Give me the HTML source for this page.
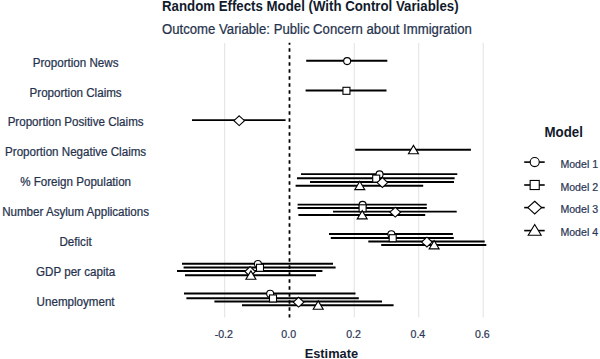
<!DOCTYPE html>
<html><head><meta charset="utf-8"><style>
html,body{margin:0;padding:0;background:#fff;}
body{width:600px;height:359px;position:relative;overflow:hidden;font-family:"Liberation Sans",sans-serif;}
svg{position:absolute;left:0;top:0;}
.tx{position:absolute;white-space:nowrap;line-height:1;-webkit-text-stroke:0.22px currentColor;}
</style></head><body>
<svg width="600" height="359" viewBox="0 0 600 359">
<line x1="224.6" y1="43" x2="224.6" y2="317.5" stroke="#e6e6e6" stroke-width="1.2"/>
<line x1="354.3" y1="43" x2="354.3" y2="317.5" stroke="#e6e6e6" stroke-width="1.2"/>
<line x1="418.7" y1="43" x2="418.7" y2="317.5" stroke="#e6e6e6" stroke-width="1.2"/>
<line x1="483.2" y1="43" x2="483.2" y2="317.5" stroke="#e6e6e6" stroke-width="1.2"/>
<line x1="289.5" y1="42.8" x2="289.5" y2="317.5" stroke="#000" stroke-width="1.8" stroke-dasharray="3.5 3.5" stroke-dashoffset="1.45"/>
<line x1="306.2" y1="60.80" x2="387.3" y2="60.80" stroke="#000" stroke-width="1.95"/>
<line x1="305.6" y1="90.50" x2="386.5" y2="90.50" stroke="#000" stroke-width="1.95"/>
<line x1="192" y1="120.10" x2="285.6" y2="120.10" stroke="#000" stroke-width="1.95"/>
<line x1="355.2" y1="149.80" x2="470.9" y2="149.80" stroke="#000" stroke-width="1.95"/>
<line x1="301" y1="174.10" x2="457.3" y2="174.10" stroke="#000" stroke-width="1.95"/>
<line x1="297" y1="178.30" x2="454.6" y2="178.30" stroke="#000" stroke-width="1.95"/>
<line x1="310" y1="182.00" x2="454" y2="182.00" stroke="#000" stroke-width="1.95"/>
<line x1="295.6" y1="185.70" x2="423.2" y2="185.70" stroke="#000" stroke-width="1.95"/>
<line x1="297.6" y1="204.60" x2="426.8" y2="204.60" stroke="#000" stroke-width="1.95"/>
<line x1="297.6" y1="208.00" x2="426.8" y2="208.00" stroke="#000" stroke-width="1.95"/>
<line x1="333" y1="211.60" x2="456.7" y2="211.60" stroke="#000" stroke-width="1.95"/>
<line x1="298.4" y1="215.00" x2="425.2" y2="215.00" stroke="#000" stroke-width="1.95"/>
<line x1="329" y1="233.90" x2="452.9" y2="233.90" stroke="#000" stroke-width="1.95"/>
<line x1="330.8" y1="237.90" x2="453.8" y2="237.90" stroke="#000" stroke-width="1.95"/>
<line x1="368.3" y1="241.50" x2="484.7" y2="241.50" stroke="#000" stroke-width="1.95"/>
<line x1="381.2" y1="244.95" x2="486.3" y2="244.95" stroke="#000" stroke-width="1.95"/>
<line x1="182" y1="263.70" x2="333" y2="263.70" stroke="#000" stroke-width="1.95"/>
<line x1="183.6" y1="267.50" x2="335.6" y2="267.50" stroke="#000" stroke-width="1.95"/>
<line x1="177" y1="270.90" x2="322.4" y2="270.90" stroke="#000" stroke-width="1.95"/>
<line x1="185" y1="275.30" x2="316" y2="275.30" stroke="#000" stroke-width="1.95"/>
<line x1="184" y1="293.50" x2="355.5" y2="293.50" stroke="#000" stroke-width="1.95"/>
<line x1="186.4" y1="298.15" x2="358.8" y2="298.15" stroke="#000" stroke-width="1.95"/>
<line x1="214.4" y1="301.55" x2="382" y2="301.55" stroke="#000" stroke-width="1.95"/>
<line x1="242" y1="305.30" x2="393.6" y2="305.30" stroke="#000" stroke-width="1.95"/>
<circle cx="347.15" cy="61.10" r="3.50" fill="#fff" stroke="#000" stroke-width="1.1"/>
<rect x="342.95" y="87.30" width="7.00" height="7.00" fill="#fff" stroke="#000" stroke-width="1.1"/>
<path d="M239.20 115.80L244.50 120.70L239.20 125.60L233.90 120.70Z" fill="#fff" stroke="#000" stroke-width="1.1"/>
<path d="M413.45 145.40L418.45 153.70L408.45 153.70Z" fill="#fff" stroke="#000" stroke-width="1.1"/>
<circle cx="379.55" cy="174.40" r="3.50" fill="#fff" stroke="#000" stroke-width="1.1"/>
<rect x="372.70" y="175.10" width="7.00" height="7.00" fill="#fff" stroke="#000" stroke-width="1.1"/>
<path d="M382.40 177.70L387.70 182.60L382.40 187.50L377.10 182.60Z" fill="#fff" stroke="#000" stroke-width="1.1"/>
<path d="M359.80 181.30L364.80 189.60L354.80 189.60Z" fill="#fff" stroke="#000" stroke-width="1.1"/>
<circle cx="362.60" cy="204.90" r="3.50" fill="#fff" stroke="#000" stroke-width="1.1"/>
<rect x="359.10" y="204.80" width="7.00" height="7.00" fill="#fff" stroke="#000" stroke-width="1.1"/>
<path d="M395.25 207.30L400.55 212.20L395.25 217.10L389.95 212.20Z" fill="#fff" stroke="#000" stroke-width="1.1"/>
<path d="M362.20 210.60L367.20 218.90L357.20 218.90Z" fill="#fff" stroke="#000" stroke-width="1.1"/>
<circle cx="391.35" cy="234.20" r="3.50" fill="#fff" stroke="#000" stroke-width="1.1"/>
<rect x="389.20" y="234.70" width="7.00" height="7.00" fill="#fff" stroke="#000" stroke-width="1.1"/>
<path d="M426.90 237.20L432.20 242.10L426.90 247.00L421.60 242.10Z" fill="#fff" stroke="#000" stroke-width="1.1"/>
<path d="M434.15 240.55L439.15 248.85L429.15 248.85Z" fill="#fff" stroke="#000" stroke-width="1.1"/>
<circle cx="257.90" cy="264.00" r="3.50" fill="#fff" stroke="#000" stroke-width="1.1"/>
<rect x="256.50" y="264.30" width="7.00" height="7.00" fill="#fff" stroke="#000" stroke-width="1.1"/>
<path d="M250.10 266.60L255.40 271.50L250.10 276.40L244.80 271.50Z" fill="#fff" stroke="#000" stroke-width="1.1"/>
<path d="M250.90 270.90L255.90 279.20L245.90 279.20Z" fill="#fff" stroke="#000" stroke-width="1.1"/>
<circle cx="270.15" cy="293.80" r="3.50" fill="#fff" stroke="#000" stroke-width="1.1"/>
<rect x="269.50" y="294.95" width="7.00" height="7.00" fill="#fff" stroke="#000" stroke-width="1.1"/>
<path d="M298.60 297.25L303.90 302.15L298.60 307.05L293.30 302.15Z" fill="#fff" stroke="#000" stroke-width="1.1"/>
<path d="M318.20 300.90L323.20 309.20L313.20 309.20Z" fill="#fff" stroke="#000" stroke-width="1.1"/>
<line x1="524.2" y1="162.1" x2="544.7" y2="162.1" stroke="#000" stroke-width="1.6"/>
<circle cx="534.70" cy="162.10" r="4.55" fill="#fff" stroke="#000" stroke-width="1.1"/>
<line x1="524.2" y1="185.0" x2="544.7" y2="185.0" stroke="#000" stroke-width="1.6"/>
<rect x="530.15" y="180.45" width="9.10" height="9.10" fill="#fff" stroke="#000" stroke-width="1.1"/>
<line x1="524.2" y1="207.6" x2="544.7" y2="207.6" stroke="#000" stroke-width="1.6"/>
<path d="M534.70 201.23L541.59 207.60L534.70 213.97L527.81 207.60Z" fill="#fff" stroke="#000" stroke-width="1.1"/>
<line x1="524.2" y1="230.6" x2="544.7" y2="230.6" stroke="#000" stroke-width="1.6"/>
<path d="M534.70 224.49L541.20 235.28L528.20 235.28Z" fill="#fff" stroke="#000" stroke-width="1.1"/>
</svg>
<div class="tx" style="left:162.00px;-webkit-text-stroke:0;top:-0.26px;font-size:13.25px;font-weight:bold;color:#121a2c;transform-origin:0 11.26px;transform:scaleY(1.07)">Random Effects Model (With Control Variables)</div>
<div class="tx" style="left:162.00px;top:22.81px;font-size:13.16px;font-weight:normal;color:#26324d;transform-origin:0 11.19px;transform:scaleY(1.08)">Outcome Variable: Public Concern about Immigration</div>
<div class="tx" style="left:-24.40px;width:200px;text-align:center;top:56.64px;font-size:11.6px;font-weight:normal;color:#26324d;transform-origin:0 9.86px;transform:scaleY(1.09)">Proportion News</div>
<div class="tx" style="left:-24.40px;width:200px;text-align:center;top:86.54px;font-size:11.6px;font-weight:normal;color:#26324d;transform-origin:0 9.86px;transform:scaleY(1.09)">Proportion Claims</div>
<div class="tx" style="left:-24.40px;width:200px;text-align:center;top:116.44px;font-size:11.6px;font-weight:normal;color:#26324d;transform-origin:0 9.86px;transform:scaleY(1.09)">Proportion Positive Claims</div>
<div class="tx" style="left:-24.40px;width:200px;text-align:center;top:146.34px;font-size:11.6px;font-weight:normal;color:#26324d;transform-origin:0 9.86px;transform:scaleY(1.09)">Proportion Negative Claims</div>
<div class="tx" style="left:-24.40px;width:200px;text-align:center;top:176.24px;font-size:11.6px;font-weight:normal;color:#26324d;transform-origin:0 9.86px;transform:scaleY(1.09)">% Foreign Population</div>
<div class="tx" style="left:-24.40px;width:200px;text-align:center;top:206.14px;font-size:11.6px;font-weight:normal;color:#26324d;transform-origin:0 9.86px;transform:scaleY(1.09)">Number Asylum Applications</div>
<div class="tx" style="left:-24.40px;width:200px;text-align:center;top:236.04px;font-size:11.6px;font-weight:normal;color:#26324d;transform-origin:0 9.86px;transform:scaleY(1.09)">Deficit</div>
<div class="tx" style="left:-24.40px;width:200px;text-align:center;top:265.94px;font-size:11.6px;font-weight:normal;color:#26324d;transform-origin:0 9.86px;transform:scaleY(1.09)">GDP per capita</div>
<div class="tx" style="left:-24.40px;width:200px;text-align:center;top:295.84px;font-size:11.6px;font-weight:normal;color:#26324d;transform-origin:0 9.86px;transform:scaleY(1.09)">Unemployment</div>
<div class="tx" style="left:193.80px;width:60px;text-align:center;top:328.89px;font-size:10.6px;font-weight:normal;color:#2b3655;transform-origin:0 9.01px;transform:scaleY(1.05)">-0.2</div>
<div class="tx" style="left:258.70px;width:60px;text-align:center;top:328.89px;font-size:10.6px;font-weight:normal;color:#2b3655;transform-origin:0 9.01px;transform:scaleY(1.05)">0.0</div>
<div class="tx" style="left:323.50px;width:60px;text-align:center;top:328.89px;font-size:10.6px;font-weight:normal;color:#2b3655;transform-origin:0 9.01px;transform:scaleY(1.05)">0.2</div>
<div class="tx" style="left:387.90px;width:60px;text-align:center;top:328.89px;font-size:10.6px;font-weight:normal;color:#2b3655;transform-origin:0 9.01px;transform:scaleY(1.05)">0.4</div>
<div class="tx" style="left:452.40px;width:60px;text-align:center;top:328.89px;font-size:10.6px;font-weight:normal;color:#2b3655;transform-origin:0 9.01px;transform:scaleY(1.05)">0.6</div>
<div class="tx" style="left:544.50px;-webkit-text-stroke:0;top:125.89px;font-size:13.3px;font-weight:bold;color:#121a2c;transform-origin:0 11.30px;transform:scaleY(1.05)">Model</div>
<div class="tx" style="left:560.40px;top:158.79px;font-size:10.6px;font-weight:normal;color:#2b3655;transform-origin:0 9.01px;transform:scaleY(1.1)">Model 1</div>
<div class="tx" style="left:560.40px;top:181.69px;font-size:10.6px;font-weight:normal;color:#2b3655;transform-origin:0 9.01px;transform:scaleY(1.1)">Model 2</div>
<div class="tx" style="left:560.40px;top:204.29px;font-size:10.6px;font-weight:normal;color:#2b3655;transform-origin:0 9.01px;transform:scaleY(1.1)">Model 3</div>
<div class="tx" style="left:560.40px;top:227.29px;font-size:10.6px;font-weight:normal;color:#2b3655;transform-origin:0 9.01px;transform:scaleY(1.1)">Model 4</div>
<div class="tx" style="left:304.70px;-webkit-text-stroke:0;top:347.92px;font-size:12.8px;font-weight:bold;color:#121a2c;transform-origin:0 10.88px;transform:scaleY(1.03)">Estimate</div>
</body></html>
